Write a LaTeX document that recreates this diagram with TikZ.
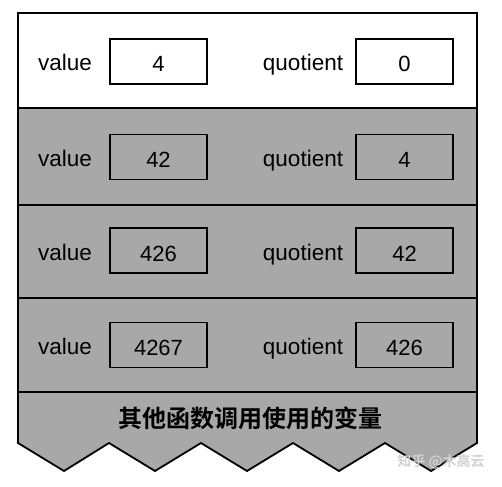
\documentclass[tikz,border=0pt]{standalone}
\usepackage{fontspec}
\setmainfont{Liberation Sans}
\newfontfamily\cjk{Noto Sans CJK SC Bold}
\definecolor{bodygray}{RGB}{168,168,168}
\begin{document}
\begin{tikzpicture}[x=1pt,y=-1pt,
  frame/.style={line width=1.8pt, line join=miter},
  valbox/.style={draw, line width=1.6pt, minimum width=97pt, minimum height=45pt, inner sep=0pt, text height=21pt, text depth=0pt, font=\fontsize{22}{26}\selectfont},
  lbl/.style={inner sep=0pt, anchor=base, font=\fontsize{22.5}{26}\selectfont},
  sep/.style={line width=1.8pt}]
\useasboundingbox[fill=white] (0,0) rectangle (502,486);
% coordinates of the frame
\coordinate (tl) at (18,13);
\coordinate (tr) at (477,13);
\coordinate (bl) at (18,443);
\coordinate (br) at (477,443);
\foreach \y [count=\i] in {108,205,298,392}{
  \coordinate (sl\i) at (18,\y);
  \coordinate (sr\i) at (477,\y);
}
% grey body with zigzag bottom
\fill[bodygray] (sl1) -- (sr1) -- (br) -- (431,471) -- (385,443) -- (339,471) -- (293,443)
  -- (247,471) -- (201,443) -- (155,471) -- (109,443) -- (64,471) -- (bl) -- cycle;
\draw[frame] (tl) -- (tr) -- (br) -- (431,471) -- (385,443) -- (339,471) -- (293,443)
  -- (247,471) -- (201,443) -- (155,471) -- (109,443) -- (64,471) -- (bl) -- cycle;
\foreach \i in {1,2,3,4}{ \draw[sep] (sl\i) -- (sr\i); }
% rows
\foreach \y/\v/\q [count=\i] in {61.5/4/0, 157/42/4, 250.5/426/42, 345/4267/426}{
  \node[lbl] (vl\i) at (65,\y+9.5) {value};
  \node[valbox] (vb\i) at (158.5,\y) {\v};
  \node[lbl] (ql\i) at (303,\y+9.5) {quotient};
  \node[valbox] (qb\i) at (404.5,\y) {\q};
}
\node[font=\cjk\fontsize{24}{28}\selectfont, inner sep=0pt] (other) at (250,418) {其他函数调用使用的变量};
\node[font=\cjk\fontsize{14}{16}\selectfont, text=gray!35, inner sep=0pt] (wm) at (441,462) {知乎 @木高云};
\end{tikzpicture}
\end{document}
